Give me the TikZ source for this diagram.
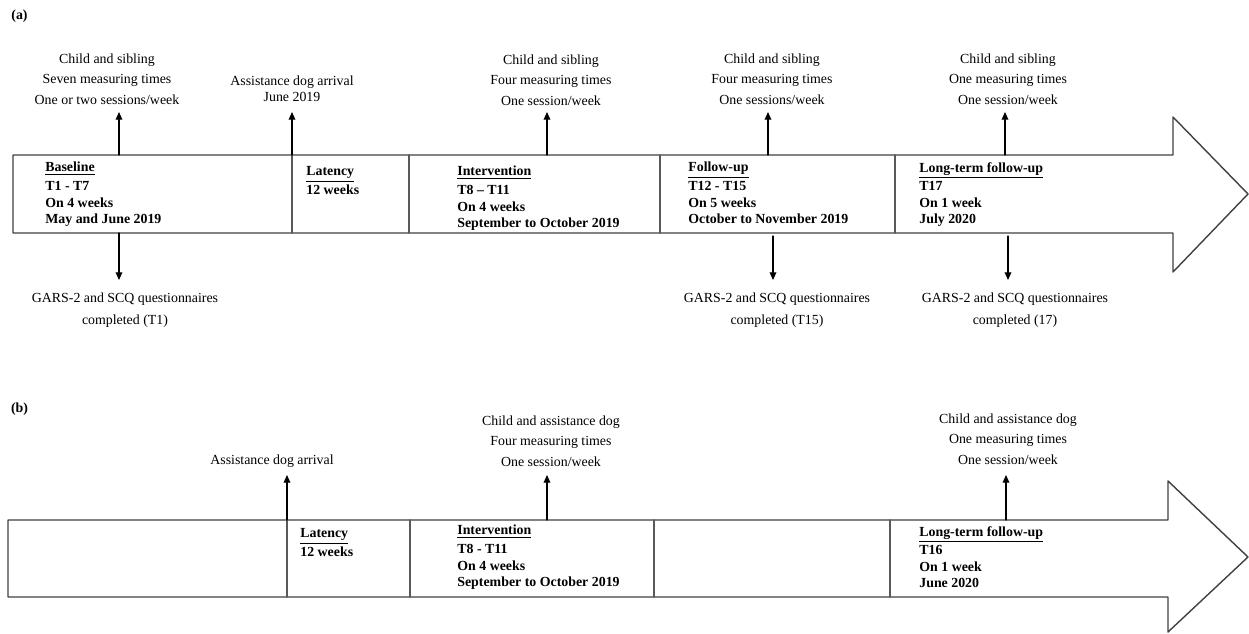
\documentclass[tikz,border=0pt]{standalone}
\usepackage{fontspec}
\setmainfont{Liberation Serif}
\usetikzlibrary{arrows.meta}

\begin{document}
\begin{tikzpicture}[x=0.02cm, y=-0.02cm, line cap=round, line join=round]
  \tikzset{
    body/.style={line width=0.8pt, draw=black!75},
    divider/.style={line width=0.8pt, draw=black!65},
    event/.style={line width=0.7pt, -{Triangle[length=4.4pt, width=3.8pt]}, draw=black},
    note/.style={align=center, inner sep=0pt, font=\fontsize{7.9pt}{11.7pt}\selectfont},
    phase/.style={align=left, anchor=north west, inner sep=0pt, font=\bfseries\fontsize{7.9pt}{9.4pt}\selectfont},
    panel/.style={inner sep=0pt, font=\bfseries\fontsize{7.9pt}{9.4pt}\selectfont}
  }
  \useasboundingbox (0,0) rectangle (1249,633);

  % (a) sibling design
  \node[panel] (labA) at (19.5,16.5) {(a)};
  \draw[body] (13,155) -- (1173,155) -- (1173,117) -- (1248,194) -- (1173,272) -- (1173,233) -- (13,233) -- cycle;
  \foreach \x in {292,409,660,895} \draw[divider] (\x,155) -- (\x,233);

  \node[phase] (a-base) at (45,162) {\underline{Baseline}\\[1.2pt]T1 - T7\\On 4 weeks\\May and June 2019};
  \node[phase] (a-lat) at (306,166) {\underline{Latency}\\[1.2pt]12 weeks};
  \node[phase] (a-int) at (457,166) {\underline{Intervention}\\[1.2pt]T8 – T11\\On 4 weeks\\September to October 2019};
  \node[phase] (a-fol) at (688,162) {\underline{Follow-up}\\[1.2pt]T12 - T15\\On 5 weeks\\October to November 2019};
  \node[phase] (a-long) at (919,162) {\underline{Long-term follow-up}\\[1.2pt]T17\\On 1 week\\July 2020};

  \node[note] (a-n1) at (107,79) {Child and sibling\\Seven measuring times\\One or two sessions/week};
  \node[note, font=\fontsize{7.9pt}{9.2pt}\selectfont] (a-n2) at (292,89) {Assistance dog arrival\\June 2019};
  \node[note] (a-n3) at (551,80) {Child and sibling\\Four measuring times\\One session/week};
  \node[note] (a-n4) at (772,79) {Child and sibling\\Four measuring times\\One sessions/week};
  \node[note] (a-n5) at (1008,79) {Child and sibling\\One measuring times\\One session/week};

  \node[note, font=\fontsize{7.9pt}{12.8pt}\selectfont] (a-q1) at (125,310) {GARS-2 and SCQ questionnaires\\completed (T1)};
  \node[note, font=\fontsize{7.9pt}{12.8pt}\selectfont] (a-q2) at (777,310) {GARS-2 and SCQ questionnaires\\completed (T15)};
  \node[note, font=\fontsize{7.9pt}{12.8pt}\selectfont] (a-q3) at (1015,310) {GARS-2 and SCQ questionnaires\\completed (17)};

  \foreach \x [count=\i] in {119,292,547,768,1005} {
    \coordinate (a-up\i) at (\x,155);
    \coordinate (a-tip\i) at (\x,112);
    \draw[event] (a-up\i) -- (a-tip\i);
  }
  \foreach \x/\y [count=\i] in {119/233,773/236,1008/236} {
    \coordinate (a-dn\i) at (\x,\y);
    \coordinate (a-end\i) at (\x,280);
    \draw[event] (a-dn\i) -- (a-end\i);
  }

  % (b) assistance dog design
  \node[panel] (labB) at (19.5,409) {(b)};
  \draw[body] (8,520) -- (1168,520) -- (1168,481) -- (1248,557) -- (1168,632) -- (1168,597) -- (8,597) -- cycle;
  \foreach \x in {287,410,654,890} \draw[divider] (\x,520) -- (\x,597);

  \node[phase] (b-lat) at (300,528) {\underline{Latency}\\[1.2pt]12 weeks};
  \node[phase] (b-int) at (457,525) {\underline{Intervention}\\[1.2pt]T8 - T11\\On 4 weeks\\September to October 2019};
  \node[phase] (b-long) at (919,526) {\underline{Long-term follow-up}\\[1.2pt]T16\\On 1 week\\June 2020};

  \node[note] (b-n1) at (272,461) {Assistance dog arrival};
  \node[note] (b-n2) at (551,441) {Child and assistance dog\\Four measuring times\\One session/week};
  \node[note] (b-n3) at (1008,439) {Child and assistance dog\\One measuring times\\One session/week};

  \foreach \x [count=\i] in {287,547,1006} {
    \coordinate (b-up\i) at (\x,520);
    \coordinate (b-tip\i) at (\x,475);
    \draw[event] (b-up\i) -- (b-tip\i);
  }

\end{tikzpicture}
\end{document}
